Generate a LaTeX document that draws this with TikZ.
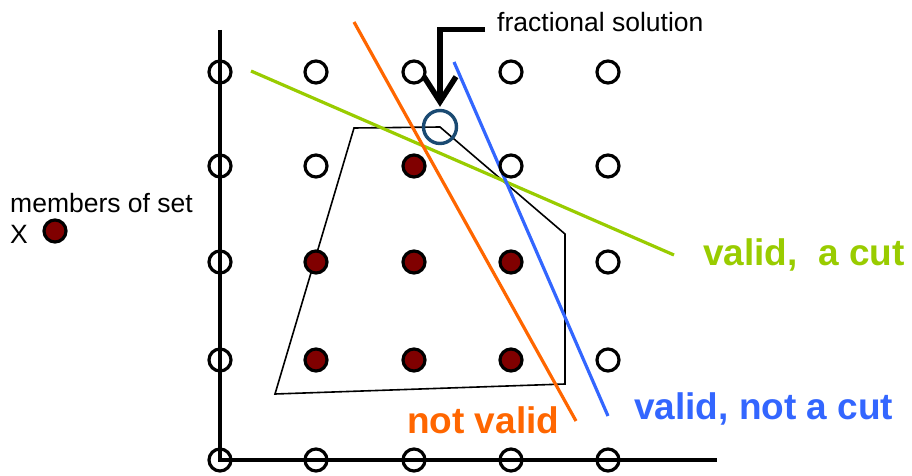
\documentclass[tikz,border=0pt]{standalone}
\usepackage{fontspec}
\setmainfont{Liberation Sans}
\usetikzlibrary{arrows.meta}

\definecolor{cutgreen}{HTML}{99CC00}
\definecolor{cutorange}{HTML}{FF6600}
\definecolor{cutblue}{HTML}{3366FF}
\definecolor{setred}{HTML}{800000}
\definecolor{fracblue}{HTML}{1A4A72}

\begin{document}
\begin{tikzpicture}[x=1pt, y=-1pt,
  latpt/.style={circle, draw=black, line width=3.2pt, minimum size=22pt, inner sep=0pt},
  setpt/.style={latpt, fill=setred},
  cutline/.style={line width=3.2pt},
  lbl/.style={inner sep=0pt, font=\fontsize{26.5}{31}\selectfont},
  cutlbl/.style={inner sep=0pt, font=\fontsize{37}{44}\selectfont\bfseries}]

\useasboundingbox (0,0) rectangle (912,476);

% Axes
\coordinate (origin) at (220,460);
\draw[line width=4pt] (220,30) -- (origin) -- (717,460);

% Feasible region
\draw[line width=1.6pt, line join=miter]
  (354,128) -- (440,127) -- (565,234) -- (565,384) -- (275,394) -- cycle;

% Cuts
\draw[cutline, cutgreen] (251,71) -- (674,255);
\draw[cutline, cutorange] (354,22) -- (576,421);
\draw[cutline, cutblue] (454,62) -- (608,416);

% Lattice points
\foreach \x in {220,316,414,511,608} {
  \node[latpt] at (\x,72) {};
  \node[latpt] at (\x,460) {};
}
\foreach \x/\y in {220/166, 316/166, 511/166, 608/166, 220/262, 608/262, 220/360, 608/360}
  \node[latpt] at (\x,\y) {};

% Members of X
\foreach \x/\y in {414/166, 316/262, 414/262, 511/262, 316/360, 414/360, 511/360}
  \node[setpt] at (\x,\y) {};

% Fractional solution
\node[circle, draw=fracblue, line width=3.4pt, minimum size=33pt, inner sep=0pt] (frac) at (440,127) {};
\node[lbl, anchor=base west] (fraclabel) at (497,32) {fractional solution};
\draw[line width=5.5pt, -{Straight Barb[length=25pt, width=32pt]}, shorten >=2pt]
  ([xshift=-12pt]fraclabel.mid west) -| (frac.north);

% Legend
\node[lbl, anchor=base west] (setlabel) at (10,212) {members of set};
\node[lbl, anchor=base west] (setx) at (10,243) {X};
\node[setpt] (setdot) at (55,231) {};

% Labels of cuts
\node[cutlbl, cutgreen, anchor=base west] (cutok) at (703,265) {valid,\ \ a cut};
\node[cutlbl, cutorange, anchor=base west] (notvalid) at (407,433) {not valid};
\node[cutlbl, cutblue, anchor=base west] (notcut) at (634,419) {valid, not a cut};
\end{tikzpicture}
\end{document}
